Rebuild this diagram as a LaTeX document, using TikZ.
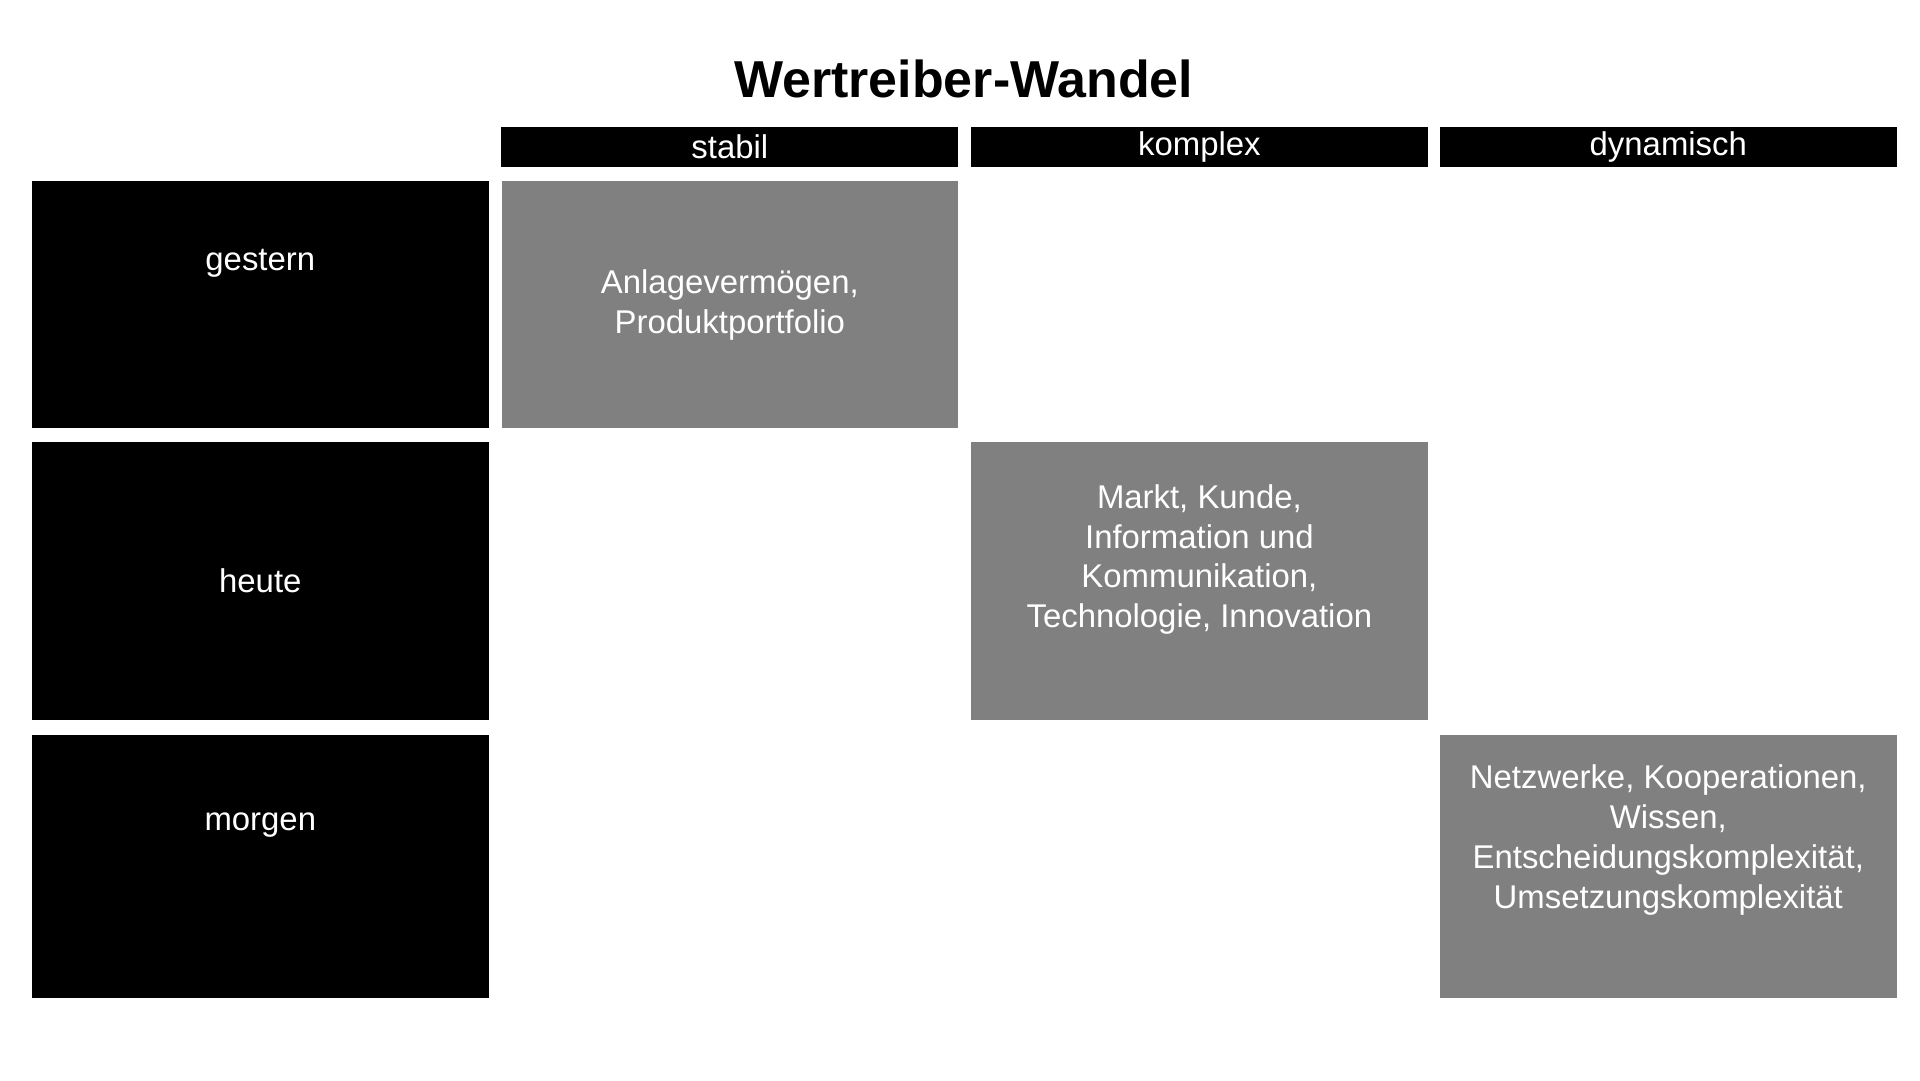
\documentclass[tikz,border=0pt]{standalone}
\usepackage{fontspec}
\setmainfont{Liberation Sans}
\begin{document}
\begin{tikzpicture}[x=0.01cm,y=-0.01cm,
  cell/.style={inner sep=0pt,outer sep=0pt,text=white,align=center,font=\fontsize{7.6pt}{9.2pt}\selectfont},
  blk/.style={cell,fill=black},
  gry/.style={cell,fill=gray}]
\useasboundingbox (0,0) rectangle (1560,877.5);
\node[font=\bfseries\fontsize{12pt}{14pt}\selectfont] (title) at (783,64) {Wertreiber-Wandel};
\node[blk,minimum width=3.71cm,minimum height=0.33cm] (h1) at (593,119.5) {stabil};
\node[blk,minimum width=3.71cm,minimum height=0.33cm] (h2) at (974.5,119.5) {komplex};
\node[blk,minimum width=3.71cm,minimum height=0.33cm] (h3) at (1355.5,119.5) {dynamisch};
\node[blk,minimum width=3.71cm,minimum height=2.01cm] (r1) at (211.5,247.5) {gestern\\[1.5em]};
\node[blk,minimum width=3.71cm,minimum height=2.26cm] (r2) at (211.5,472) {heute};
\node[blk,minimum width=3.71cm,minimum height=2.14cm] (r3) at (211.5,704) {morgen\\[1.5em]};
\node[gry,minimum width=3.70cm,minimum height=2.01cm] (g1) at (593,247.5) {Anlagevermögen,\\Produktportfolio};
\node[gry,minimum width=3.71cm,minimum height=2.26cm] (g2) at (974.5,472) {Markt, Kunde,\\Information und\\Kommunikation,\\Technologie, Innovation\\[0.3em]};
\node[gry,minimum width=3.71cm,minimum height=2.14cm] (g3) at (1355.5,704) {Netzwerke, Kooperationen,\\Wissen,\\Entscheidungskomplexität,\\Umsetzungskomplexität\\[0.6em]};
\end{tikzpicture}
\end{document}
